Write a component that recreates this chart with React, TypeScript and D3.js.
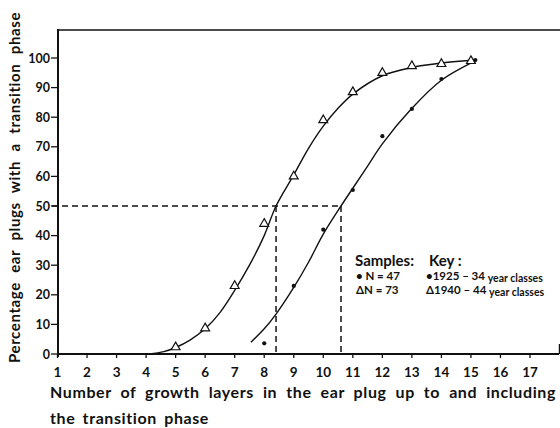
import React, { useLayoutEffect, useRef } from 'react';
import * as d3 from 'd3';

// Observed points: growth layers vs. % ear plugs with a transition phase
const layers1940 = [5, 6, 7, 8, 9, 10, 11, 12, 13, 14, 15];
const pct1940 = [2.3, 8.7, 23, 44, 60, 79, 88.5, 95, 97.3, 98, 99];
const layers1925 = [8, 9, 10, 11, 12, 13, 14, 15.15];
const pct1925 = [3.6, 23, 42, 55.4, 73.6, 82.8, 92.9, 99.3];

// Hand-fitted curves through each sample
const fit1940X = [4.1, 4.6, 5, 5.5, 6, 6.5, 7, 7.5, 8, 8.4, 9, 9.5, 10, 10.5, 11, 12, 13, 14, 15.2];
const fit1940Y = [0, 0.8, 2.2, 4.8, 8.5, 14, 21.5, 30, 40, 50, 60.5, 69.5, 77, 83, 87.8, 94, 96.8, 98.3, 99.3];
const fit1925X = [7.55, 8, 8.4, 9, 9.5, 10, 10.6, 11, 11.5, 12, 13, 14, 15.2];
const fit1925Y = [4, 8.5, 13.5, 22.5, 31, 40.5, 50, 56, 63.5, 71, 83, 92.5, 99.3];

// Layer counts where each curve crosses 50 %
const medianLevel = 50;
const medianLayers = [8.4, 10.6];

const xTickValues = [1, 2, 3, 4, 5, 6, 7, 8, 9, 10, 11, 12, 13, 14, 15, 16, 17];
const yTickValues = [0, 10, 20, 30, 40, 50, 60, 70, 80, 90, 100];

const FONT = 'Lato, "DejaVu Sans", sans-serif';

type JProps = {
  text: string;
  width: number;
  x?: number;
  y?: number;
  transform?: string;
  fontSize: number;
  fontWeight?: number;
  letterSpacing?: number;
};

// Text whose word gaps are stretched so the line spans a given width
function JustifiedText({
  text,
  width,
  x = 0,
  y = 0,
  transform,
  fontSize,
  fontWeight = 400,
  letterSpacing = 0,
}: JProps) {
  const ref = useRef<SVGTextElement>(null);
  useLayoutEffect(() => {
    const el = ref.current;
    if (!el) return;
    el.style.wordSpacing = '0px';
    const natural = el.getComputedTextLength();
    const gaps = text.split(' ').length - 1;
    if (gaps > 0) el.style.wordSpacing = `${Math.max(0, (width - natural) / gaps)}px`;
  }, [text, width]);
  return (
    <text
      ref={ref}
      x={x}
      y={y}
      transform={transform}
      fontSize={fontSize}
      fontWeight={fontWeight}
      fontFamily={FONT}
      letterSpacing={letterSpacing}
      fill="#111"
    >
      {text}
    </text>
  );
}

export default function App() {
  const x = d3.scaleLinear().domain([1, 17]).range([57.5, 530]);
  const y = d3.scaleLinear().domain([0, 100]).range([354, 58]);

  const line = d3
    .line<[number, number]>()
    .x((d) => x(d[0]))
    .y((d) => y(d[1]))
    .curve(d3.curveCatmullRom.alpha(0.5));

  const curve1940 = line(fit1940X.map((v, i) => [v, fit1940Y[i]] as [number, number])) || '';
  const curve1925 = line(fit1925X.map((v, i) => [v, fit1925Y[i]] as [number, number])) || '';

  const tri = d3.symbol(d3.symbolTriangle, 34)() || '';

  const axisLeft = 58;
  const axisBottom = 354;
  const frameTop = 30;

  return (
    <svg
      width={560}
      height={428}
      viewBox="0 0 560 428"
      style={{ position: 'absolute', left: 0, top: 0, background: '#fff' }}
    >
      <rect width={560} height={428} fill="#fff" />

      {/* frame and axes */}
      <line x1={axisLeft} x2={560} y1={frameTop} y2={frameTop} stroke="#111" strokeWidth={1.5} />
      <line x1={axisLeft} x2={axisLeft} y1={frameTop - 1} y2={axisBottom + 3} stroke="#111" strokeWidth={2} />
      <line x1={axisLeft} x2={559} y1={axisBottom} y2={axisBottom} stroke="#111" strokeWidth={1.8} />
      <line x1={x(18)} x2={x(18)} y1={axisBottom - 10} y2={axisBottom} stroke="#111" strokeWidth={1.5} />

      {/* y ticks */}
      {yTickValues.map((t) => (
        <g key={`y${t}`}>
          <line x1={axisLeft - 7} x2={axisLeft} y1={y(t)} y2={y(t)} stroke="#111" strokeWidth={1.3} />
          <text
            x={axisLeft - 8}
            y={y(t)}
            dy="0.36em"
            textAnchor="end"
            fontSize={12.5}
            fontWeight={700}
            fontFamily={FONT}
            fill="#111"
          >
            {t}
          </text>
        </g>
      ))}

      {/* x ticks */}
      {xTickValues.map((t) => (
        <g key={`x${t}`}>
          <line x1={x(t)} x2={x(t)} y1={axisBottom - 1} y2={axisBottom + 4} stroke="#111" strokeWidth={1.3} />
          <text
            x={x(t)}
            y={377}
            textAnchor="middle"
            fontSize={13.5}
            fontWeight={700}
            fontFamily={FONT}
            fill="#111"
          >
            {t}
          </text>
        </g>
      ))}

      {/* 50 % reference lines */}
      <line
        x1={axisLeft - 6}
        x2={x(medianLayers[1])}
        y1={y(medianLevel)}
        y2={y(medianLevel)}
        stroke="#111"
        strokeWidth={1.5}
        strokeDasharray="6 4"
      />
      {medianLayers.map((m) => (
        <line
          key={`m${m}`}
          x1={x(m)}
          x2={x(m)}
          y1={y(medianLevel)}
          y2={y(0)}
          stroke="#111"
          strokeWidth={1.5}
          strokeDasharray="6 4"
        />
      ))}

      {/* fitted curves */}
      <path d={curve1940} fill="none" stroke="#111" strokeWidth={1.4} />
      <path d={curve1925} fill="none" stroke="#111" strokeWidth={1.4} />

      {/* observations */}
      {layers1940.map((l, i) => (
        <path
          key={`t${l}`}
          d={tri}
          transform={`translate(${x(l)},${y(pct1940[i])})`}
          fill="#fff"
          stroke="#111"
          strokeWidth={1.2}
        />
      ))}
      {layers1925.map((l, i) => (
        <circle key={`c${l}`} cx={x(l)} cy={y(pct1925[i])} r={2.1} fill="#111" />
      ))}

      {/* key */}
      <g fontFamily={FONT} fill="#111" fontWeight={700}>
        <text x={355} y={266} fontSize={15}>Samples:</text>
        <text x={429} y={266} fontSize={15}>Key :</text>
        <text x={356} y={280} fontSize={11.5}>• N = 47</text>
        <text x={356} y={294} fontSize={11.5}>ΔN = 73</text>
        <text x={426} y={280} fontSize={11.5}>
          •1925 – 34 <tspan fontSize={10.5} dy={1.5}>year classes</tspan>
        </text>
        <text x={426} y={294} fontSize={11.5}>
          Δ1940 – 44 <tspan fontSize={10.5} dy={1.5}>year classes</tspan>
        </text>
      </g>

      {/* axis titles */}
      <JustifiedText
        text="Number of growth layers in the ear plug up to and including"
        x={50}
        y={398}
        width={506}
        fontSize={16}
        fontWeight={700}
        letterSpacing={0.6}
      />
      <JustifiedText
        text="the transition phase"
        x={50}
        y={424}
        width={159}
        fontSize={16}
        fontWeight={700}
        letterSpacing={0.6}
      />
      <JustifiedText
        text="Percentage ear plugs with a transition phase"
        transform="translate(20,363) rotate(-90)"
        width={351}
        fontSize={15}
        fontWeight={700}
        letterSpacing={0.6}
      />
    </svg>
  );
}
